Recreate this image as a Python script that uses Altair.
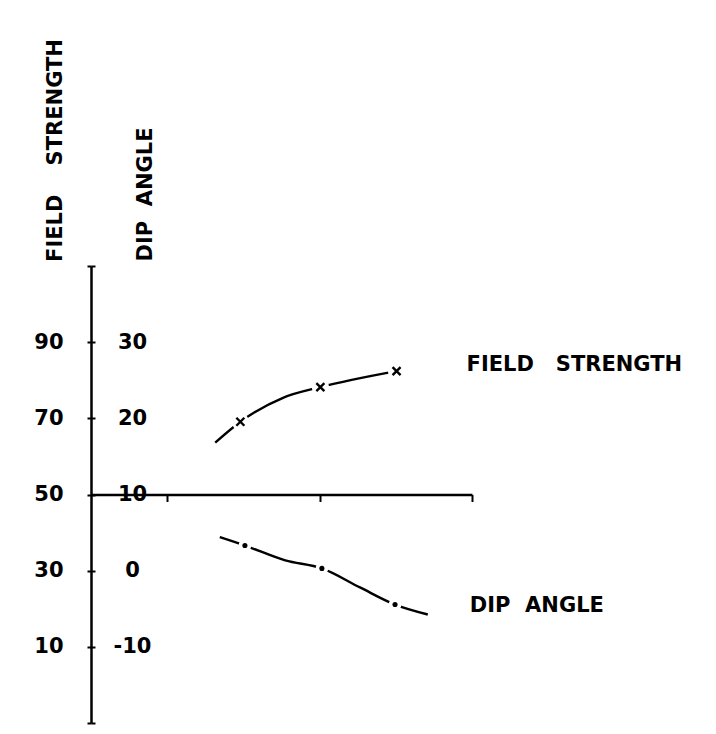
import altair as alt
import pandas as pd

# ---- data ----
fs_x = [1.63, 1.96, 2.52, 3.01, 4.01]
fs_val = [63.6, 69.1, 75.4, 78.2, 82.4]
fs_marked = [False, True, False, True, True]

dip_x = [1.69, 2.02, 2.55, 3.03, 3.53, 3.99, 4.42]
dip_val = [4.4, 3.3, 1.35, 0.3, -2.2, -4.45, -5.75]
dip_marked = [False, True, False, True, False, True, False]

fs_ticks = [-10, 10, 30, 50, 70, 90, 110]
dip_ticks = [-20, -10, 0, 10, 20, 30, 40]
x_ticks = [1, 3, 5]

NB = "\u00a0"
fs_title = "FIELD" + NB * 4 + "STRENGTH"
dip_title = "DIP" + NB * 2 + "ANGLE"
fs_name = "FIELD" + NB * 3 + "STRENGTH"
dip_name = "DIP" + NB * 2 + "ANGLE"

FONT = "DejaVu Sans"

fs_df = pd.DataFrame({"x": fs_x, "v": fs_val, "m": fs_marked})
dip_df = pd.DataFrame({"x": dip_x, "v": dip_val, "m": dip_marked})
fs_lab = pd.DataFrame({"x": [fs_x[-1]], "v": [fs_val[-1]], "t": [fs_name]})
dip_lab = pd.DataFrame({"x": [dip_x[-1]], "v": [dip_val[-1]], "t": [dip_name]})

x_axis = alt.Axis(orient="bottom", offset=-228.5, values=x_ticks, labels=False,
                  title=None, grid=False, domainColor="black", domainWidth=2.5,
                  tickColor="black", tickWidth=2, tickSize=7)
X = alt.X("x:Q", scale=alt.Scale(domain=[0, 5], nice=False, zero=False), axis=x_axis)

fs_axis = alt.Axis(orient="left", values=fs_ticks, grid=False,
                   labelExpr="(datum.value < 0 || datum.value > 100) ? '' : '' + datum.value",
                   labelOverlap=False, tickSize=4, tickWidth=2, tickColor="black",
                   labelPadding=24, labelAlign="right", labelBaseline="middle",
                   labelFont=FONT, labelFontSize=21, labelFontWeight="bold", labelColor="black",
                   domainColor="black", domainWidth=2.5,
                   title=fs_title, titleX=-35.5, titleY=-116, titleAngle=270,
                   titleAlign="center", titleBaseline="middle", titleFont=FONT,
                   titleFontSize=21, titleFontWeight="bold", titleColor="black")
dip_axis = alt.Axis(orient="right", offset=-381, values=dip_ticks, grid=False,
                    labelExpr="(datum.value < -15 || datum.value > 35) ? '' : '' + datum.value",
                    labelOverlap=False, tickSize=4, tickWidth=2, tickColor="black",
                    labelPadding=37, labelAlign="center", labelBaseline="middle",
                    labelFont=FONT, labelFontSize=21, labelFontWeight="bold", labelColor="black",
                    domain=False,
                    title=dip_title, titleX=54.5, titleY=-72, titleAngle=270,
                    titleAlign="center", titleBaseline="middle", titleFont=FONT,
                    titleFontSize=21, titleFontWeight="bold", titleColor="black")

Y_fs = alt.Y("v:Q", scale=alt.Scale(domain=[-10, 110], nice=False, zero=False), axis=fs_axis)
Y_dip = alt.Y("v:Q", scale=alt.Scale(domain=[-20, 40], nice=False, zero=False), axis=dip_axis)

fs_base = alt.Chart(fs_df)
fs_line = fs_base.mark_line(interpolate="monotone", color="black", strokeWidth=2.4).encode(x=X, y=Y_fs)
fs_gap = fs_base.transform_filter("datum.m").mark_point(
    shape="circle", filled=True, color="white", opacity=1, size=300, strokeWidth=0
).encode(x=X, y=Y_fs)
fs_mark = fs_base.transform_filter("datum.m").mark_point(
    shape="M-1,-1L1,1M-1,1L1,-1", filled=False, color="black", opacity=1, size=64, strokeWidth=2.4
).encode(x=X, y=Y_fs)
fs_text = alt.Chart(fs_lab).mark_text(
    align="left", baseline="middle", dx=70, dy=-6, font=FONT, fontSize=21,
    fontWeight="bold", color="black"
).encode(x=X, y=Y_fs, text="t:N")

dip_base = alt.Chart(dip_df)
dip_line = dip_base.mark_line(interpolate="monotone", color="black", strokeWidth=2.4).encode(x=X, y=Y_dip)
dip_gap = dip_base.transform_filter("datum.m").mark_point(
    shape="circle", filled=True, color="white", opacity=1, size=160, strokeWidth=0
).encode(x=X, y=Y_dip)
dip_dot = dip_base.transform_filter("datum.m").mark_point(
    shape="circle", filled=True, color="black", opacity=1, size=26, strokeWidth=0
).encode(x=X, y=Y_dip)
dip_text = alt.Chart(dip_lab).mark_text(
    align="left", baseline="middle", dx=42, dy=-8, font=FONT, fontSize=21,
    fontWeight="bold", color="black"
).encode(x=X, y=Y_dip, text="t:N")

fs_layer = alt.layer(fs_line, fs_gap, fs_mark, fs_text)
dip_layer = alt.layer(dip_line, dip_gap, dip_dot, dip_text)

chart = alt.layer(fs_layer, dip_layer).resolve_scale(y="independent").properties(
    width=381, height=457,
    autosize=alt.AutoSizeParams(type="none"),
    padding={"left": 83, "top": 258, "right": 236, "bottom": 3},
).configure(font=FONT, background="white").configure_view(stroke=None, strokeWidth=0)

chart.save("out.html", embed_options={"renderer": "svg", "actions": False})
